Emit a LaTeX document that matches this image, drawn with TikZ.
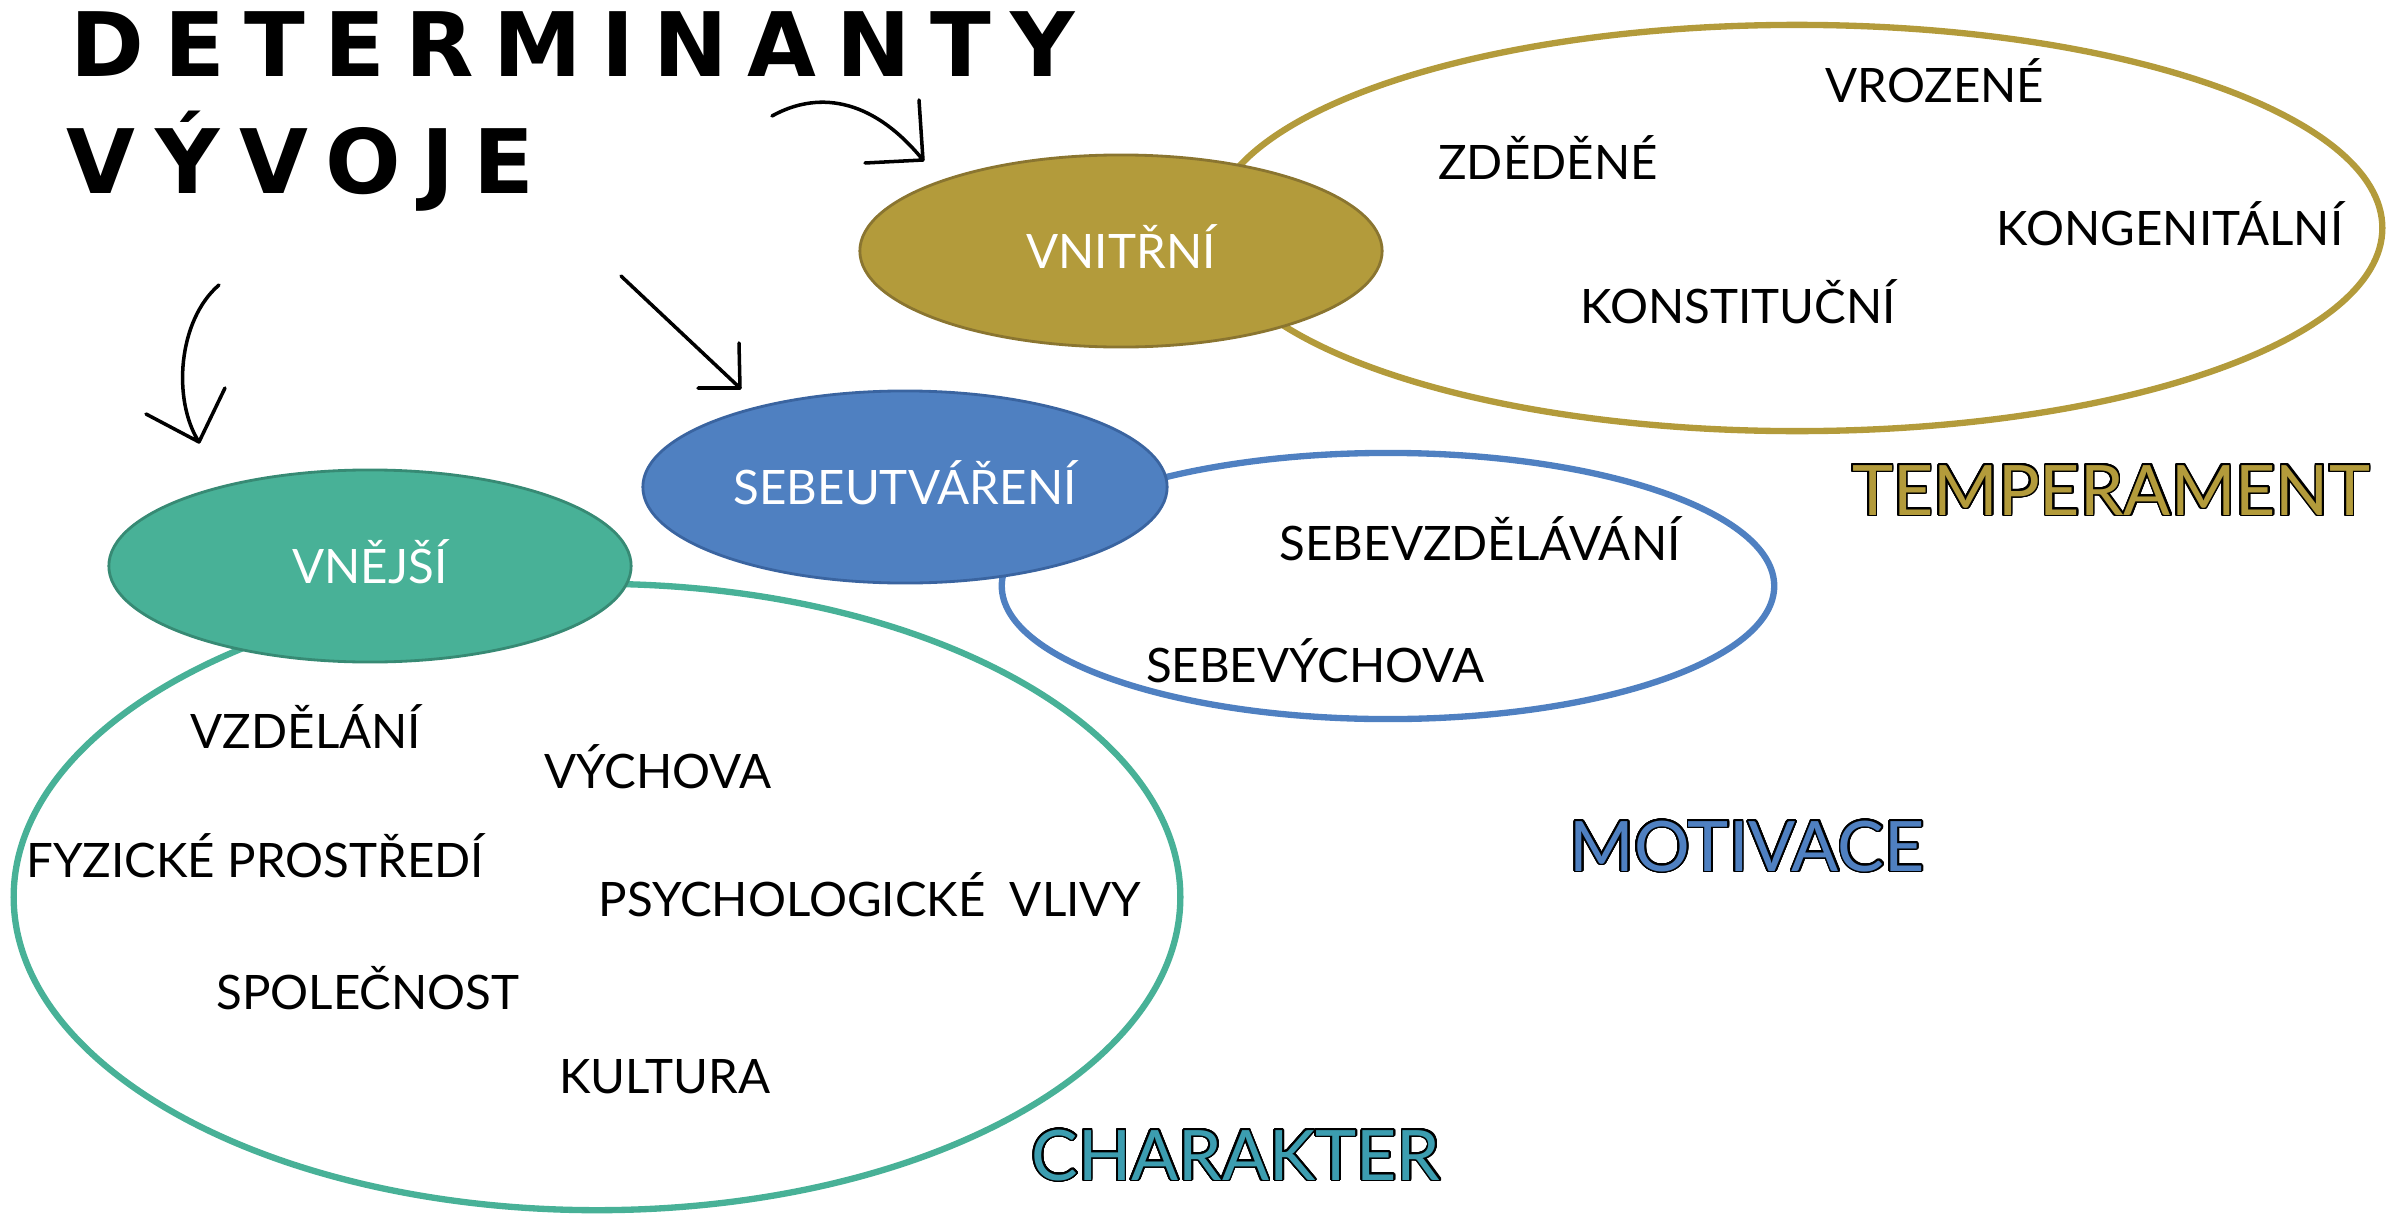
\documentclass[tikz,border=0pt]{standalone}
\usepackage{fontspec}
\usepackage{contour}
\usetikzlibrary{shapes.geometric}
\setmainfont{Lato}
\newfontfamily\headfont{DejaVu Sans}[LetterSpace=22]

\definecolor{innergold}{HTML}{B39B3B}
\definecolor{innergoldline}{HTML}{8A7530}
\definecolor{selfblue}{HTML}{4F80C1}
\definecolor{selfblueline}{HTML}{3A64A0}
\definecolor{outergreen}{HTML}{48B197}
\definecolor{outergreenline}{HTML}{378A74}
\definecolor{charteal}{HTML}{3C9DB0}

\contourlength{0.5pt}
\contournumber{32}
\newcommand{\outlined}[2]{\contour{black}{\textcolor{#1}{#2}}}

\begin{document}
\begin{tikzpicture}[x=0.01cm, y=-0.01cm,
    ringblob/.style={ellipse, line width=1.8pt, inner sep=0pt},
    fillblob/.style={
        ellipse, line width=0.8pt, inner sep=0pt,
        text=white, font=\fontsize{13.5}{14}\selectfont,
        text height=0.34cm, text depth=0pt,
        minimum width=5.22cm, minimum height=1.92cm
    },
    item/.style={anchor=base, inner sep=0pt, font=\fontsize{13.5}{14}\selectfont},
    trait/.style={anchor=base, inner sep=0pt, font=\fontsize{19.8}{21}\selectfont},
    headline/.style={anchor=base west, inner sep=0pt, font=\headfont\bfseries\fontsize{25.3}{26}\selectfont},
    hand/.style={line width=1pt, line cap=round, line join=round}
]
\useasboundingbox (0,0) rectangle (2390,1215);

% outer rings
\node[ringblob, draw=innergold, minimum width=11.70cm, minimum height=4.06cm] (temperring) at (1797,228) {};
\node[ringblob, draw=selfblue, minimum width=7.72cm, minimum height=2.66cm] (motivring) at (1388,586) {};
\node[ringblob, draw=outergreen, minimum width=11.66cm, minimum height=6.26cm] (charring) at (597,897) {};

% filled determinants
\node[fillblob, fill=innergold, draw=innergoldline] (vnitrni) at (1121,251) {VNITŘNÍ};
\node[fillblob, fill=selfblue, draw=selfblueline, minimum width=5.24cm] (sebe) at (905,487) {SEBEUTVÁŘENÍ};
\node[fillblob, fill=outergreen, draw=outergreenline] (vnejsi) at (370,566) {VNĚJŠÍ};

% title
\node[headline] (title1) at (70,77) {DETERMINANTY};
\node[headline] (title2) at (66,193) {VÝVOJE};

% arrows
\coordinate (arrAs) at (772,116);
\coordinate (arrAt) at (923,160);
\coordinate (arrBs) at (219,285);
\coordinate (arrBt) at (199,442);
\coordinate (arrCs) at (621,276);
\coordinate (arrCt) at (740,388);
\draw[hand] (arrAs) .. controls (815,92) and (870,95) .. (arrAt) -- ++(-4,-60) (arrAt) -- ++(-58,3);
\draw[hand] (arrBs) .. controls (178,320) and (172,400) .. (arrBt) -- ++(26,-54) (arrBt) -- ++(-53,-28);
\draw[hand] (arrCs) -- (arrCt) -- ++(-1,-45) (arrCt) -- ++(-42,0);

% temperament items
\node[item] (vrozene) at (1935,102) {VROZENÉ};
\node[item] (zdedene) at (1548,179) {ZDĚDĚNÉ};
\node[item] (kongen) at (2170,245) {KONGENITÁLNÍ};
\node[item] (konstit) at (1738,323) {KONSTITUČNÍ};
\node[trait] (temper) at (2111,515) {\outlined{innergold}{TEMPERAMENT}};

% motivation items
\node[item] (sebevzd) at (1480,560) {SEBEVZDĚLÁVÁNÍ};
\node[item] (sebevych) at (1315,682) {SEBEVÝCHOVA};
\node[trait] (motiv) at (1747,871) {\outlined{selfblue}{MOTIVACE}};

% character items
\node[item] (vzdelani) at (306,748) {VZDĚLÁNÍ};
\node[item] (vychova) at (658,788) {VÝCHOVA};
\node[item] (fyz) at (255,877) {FYZICKÉ PROSTŘEDÍ};
\node[item] (psych) at (870,916) {PSYCHOLOGICKÉ\ \ VLIVY};
\node[item] (spol) at (368,1009) {SPOLEČNOST};
\node[item] (kult) at (665,1093) {KULTURA};
\node[trait] (charakter) at (1236,1180) {\outlined{charteal}{CHARAKTER}};
\end{tikzpicture}
\end{document}
